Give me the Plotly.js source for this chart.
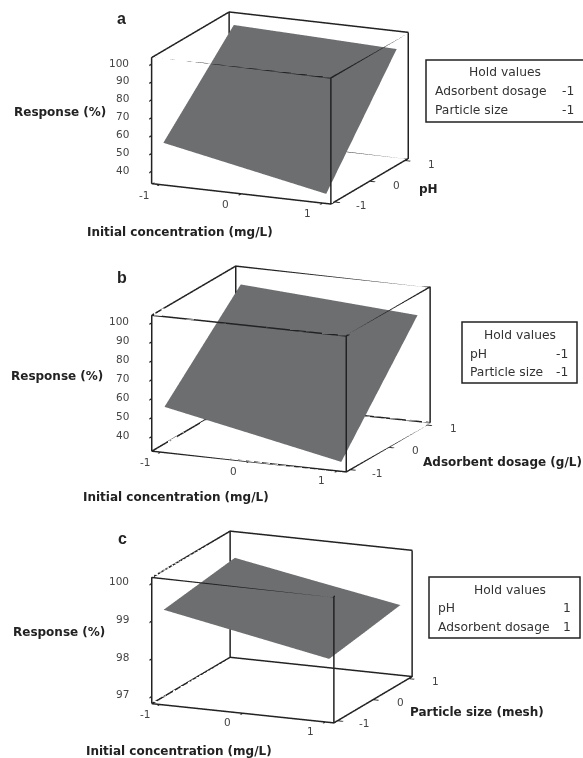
<!DOCTYPE html>
<html><head><meta charset="utf-8">
<script src="https://cdn.plot.ly/plotly-3.0.1.min.js"></script>
<style>html,body{margin:0;padding:0;background:#fff}#p{width:583px;height:758px}</style></head>
<body><div id="p"></div>
<script>
const codedLevels = [-1, 0, 1];
const zA = [[55.3, 46.2, 37.1], [76.6, 71.3, 66.0], [98.0, 96.5, 94.9]];
const zB = [[55.0, 45.5, 35.9], [75.5, 69.2, 62.8], [96.0, 92.9, 89.7]];
const zC = [[99.27, 98.85, 98.43], [99.40, 99.0, 98.58], [99.53, 99.13, 98.74]];
const zTicksAB = [40, 50, 60, 70, 80, 90, 100];
const zTicksC = [97, 98, 99, 100];
const xyRange = [-1.1, 1.1];
const zRangeA = [33.1, 103.6], zRangeB = [32.3, 104], zRangeC = [96.81, 100.16];
const holdA = [["Adsorbent dosage", "-1"], ["Particle size", "-1"]];
const holdB = [["pH", "-1"], ["Particle size", "-1"]];
const holdC = [["pH", "1"], ["Adsorbent dosage", "1"]];

const W = 583, H = 758, EYE = 3, PX_PER_UNIT = 106.5;
const FONT = "DejaVu Sans";
const INK = "#222", SURF = "#6d6e70", TICKTXT = "#444";

function surf(z, scene){
  return {type:"surface", x:codedLevels, y:codedLevels, z:z, scene:scene, showscale:false,
    colorscale:[[0,SURF],[1,SURF]], hoverinfo:"skip",
    lighting:{ambient:1,diffuse:0,specular:0,roughness:1,fresnel:0},
    contours:{x:{show:false},y:{show:false},z:{show:false}}};
}
// the twelve edges of the plot box as one unbroken path, taken from the axis ranges
function frame(zr, scene){
  const [a,b]=xyRange, [c,d]=zr;
  const A=[a,a,c],B=[b,a,c],C=[b,b,c],D=[a,b,c],E=[a,a,d],F=[b,a,d],G=[b,b,d],K=[a,b,d];
  const path=[A,B,C,D,A,E,F,G,K,E,F,B,C,G,K,D];
  return {type:"scatter3d",mode:"lines",x:path.map(p=>p[0]),y:path.map(p=>p[1]),z:path.map(p=>p[2]),
    scene:scene,hoverinfo:"skip",showlegend:false,line:{color:INK,width:3}};
}
function axis(range, tickvals){
  return {range:range, tickmode:"array", tickvals:tickvals, ticktext:tickvals.map(String),
    title:{text:""}, showgrid:false, zeroline:false, showbackground:false, showspikes:false,
    showline:false, mirror:false,
    ticks:"outside", ticklen:6, tickwidth:3, tickcolor:INK,
    showticklabels:false};
}
function tickNotes(zr, zTicks){
  const f={family:FONT,size:10.5,color:TICKTXT};
  const n=[];
  const base={showarrow:false,font:f};
  codedLevels.forEach(v=>n.push({...base,x:v,y:xyRange[0],z:zr[0],text:String(v),xshift:-15.5,yshift:-9.5}));
  codedLevels.forEach(v=>n.push({...base,x:xyRange[1],y:v,z:zr[0],text:String(v),xshift:27,yshift:-3}));
  zTicks.forEach(v=>n.push({...base,x:xyRange[0],y:xyRange[0],z:v,text:String(v),xanchor:"right",xshift:-21,yshift:2}));
  return n;
}
function scene(cx, cy, halfW, halfH, zRange, zTicks, sx, sy, sz, thetaDeg, phiSin){
  const t = thetaDeg*Math.PI/180, c = Math.sqrt(1-phiSin*phiSin), r = EYE;
  const k = PX_PER_UNIT;
  return {
    domain:{x:[(cx-halfW)/W,(cx+halfW)/W], y:[1-(cy+halfH)/H,1-(cy-halfH)/H]},
    aspectmode:"manual", aspectratio:{x:sx/k,y:sy/k,z:sz/k},
    camera:{projection:{type:"orthographic"}, up:{x:0,y:0,z:1}, center:{x:0,y:0,z:0},
      eye:{x:r*Math.sin(t)*c,y:-r*Math.cos(t)*c,z:r*phiSin}},
    xaxis:axis(xyRange,codedLevels), yaxis:axis(xyRange,codedLevels), zaxis:axis(zRange,zTicks),
    annotations:tickNotes(zRange,zTicks),
    bgcolor:"rgba(0,0,0,0)"
  };
}
function txt(s,x,y,opt){
  opt=opt||{};
  return {text:s,x:x/W,y:1-y/H,xref:"paper",yref:"paper",showarrow:false,xanchor:opt.a||"center",yanchor:"middle",
    font:{family:opt.f||FONT,size:opt.s||12,color:opt.c||"#333"}};
}
const bold = s=>"<b>"+s+"</b>";
function holdBox(x0,y0,x1,yH,y1,y2,cx,lx,rx,rows){
  return {shape:{type:"rect",xref:"paper",yref:"paper",x0:x0/W,x1:x1/W,y0:1-y0[0]/H,y1:1-y0[1]/H,line:{color:INK,width:1.5},fillcolor:"rgba(0,0,0,0)"},
    notes:[txt("Hold values",cx,yH,{s:12.3}),txt(rows[0][0],lx-2,y1,{a:"left",s:12.3}),txt(rows[0][1],rx+2,y1,{a:"right",s:12.3}),
      txt(rows[1][0],lx-2,y2,{a:"left",s:12.3}),txt(rows[1][1],rx+2,y2,{a:"right",s:12.3})]};
}
const boxes=[
  holdBox(426,[60,122],590,72,91,110,504.5,435,574,holdA),
  holdBox(462,[322,383],577,335,354,372,520,470,568,holdB),
  holdBox(429,[577,638],580,590,608,627,510,438,571,holdC)];
const T={s:12,c:"#222"};
const annotations=[
  txt(bold("a"),121,18,{f:"Liberation Sans",s:16,c:"#222"}),
  txt(bold("b"),122,277,{f:"Liberation Sans",s:16,c:"#222"}),
  txt(bold("c"),122,538,{f:"Liberation Sans",s:16,c:"#222"}),
  txt(bold("Response (%)"),60,112,T), txt(bold("Initial concentration (mg/L)"),180,232,T), txt(bold("pH"),428,189,T),
  txt(bold("Response (%)"),57,376,T), txt(bold("Initial concentration (mg/L)"),176,497,T), txt(bold("Adsorbent dosage (g/L)"),502,462,T),
  txt(bold("Response (%)"),59,632,T), txt(bold("Initial concentration (mg/L)"),179,751,T), txt(bold("Particle size (mesh)"),477,712,T)
].concat(...boxes.map(b=>b.notes));

const layout={width:W,height:H,margin:{l:0,r:0,t:0,b:0},paper_bgcolor:"#fff",showlegend:false,
  scene:scene(280,108.5,200,108,zRangeA,zTicksAB,193,189.7,128.7,23.75,0.259),
  scene2:scene(291,369,200,108,zRangeB,zTicksAB,208.5,210.9,138.4,23.1,0.250),
  scene3:scene(282,626.7,200,108,zRangeC,zTicksC,194.9,198.5,128.5,22.9,0.250),
  annotations:annotations, shapes:boxes.map(b=>b.shape)};
Plotly.newPlot("p",[surf(zA,"scene"),frame(zRangeA,"scene"),surf(zB,"scene2"),frame(zRangeB,"scene2"),surf(zC,"scene3"),frame(zRangeC,"scene3")],layout,{displayModeBar:false});
</script></body></html>
